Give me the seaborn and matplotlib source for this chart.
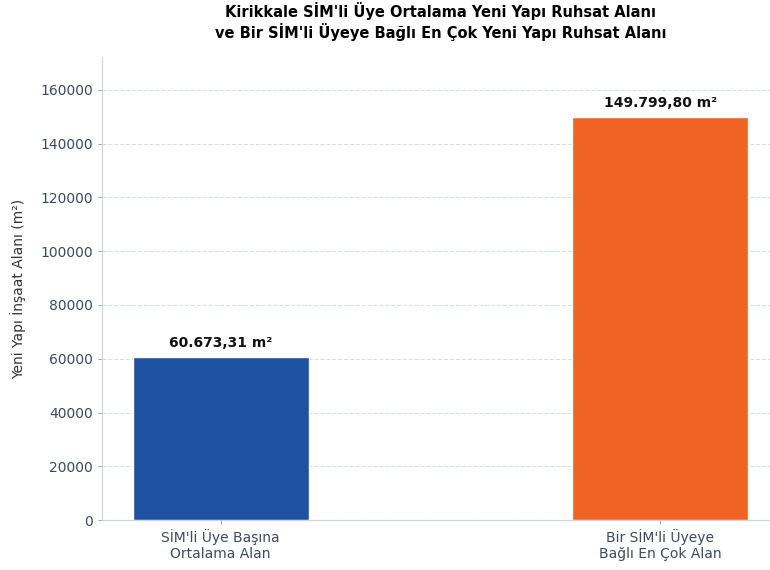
import numpy as np
import pandas as pd
import matplotlib
matplotlib.use('Agg')
import matplotlib.pyplot as plt
import seaborn as sns

categories = ["SİM'li Üye Başına\nOrtalama Alan", "Bir SİM'li Üyeye\nBağlı En Çok Alan"]
values = [60673.31, 149799.80]
value_labels = ['60.673,31 m²', '149.799,80 m²']
bar_colors = ['#1f51a1', '#f06323']

sns.set_theme(style='white')
plt.rcParams['font.family'] = ['DejaVu Sans']

df = pd.DataFrame({'kategori': categories, 'alan': values})

fig = plt.figure(figsize=(7.7, 5.7), dpi=100)
ax = fig.add_axes([0.1325, 0.0877, 0.879, 0.8123])

sns.barplot(data=df, x='kategori', y='alan', hue='kategori', palette=bar_colors,
            width=0.4, legend=False, saturation=1, ax=ax)

ax.set_xlim(-0.27, 1.27)
ax.set_ylim(0, max(values) * 1.15)
ax.set_yticks(np.arange(0, 160001, 20000))
ax.set_yticklabels([str(t) for t in range(0, 160001, 20000)])

ax.grid(axis='y', linestyle='--', color='#d8dfe8', linewidth=0.8)
ax.set_axisbelow(True)

for side in ['top', 'right']:
    ax.spines[side].set_visible(False)
for side in ['left', 'bottom']:
    ax.spines[side].set_color('#c9d6e2')
    ax.spines[side].set_linewidth(0.8)

ax.tick_params(axis='both', colors='#3d4a5c', labelsize=10, length=3, width=0.6,
               left=True, bottom=True)
ax.tick_params(axis='both', color='#8a96a3')

ax.set_xlabel('')
ax.set_ylabel('Yeni Yapı İnşaat Alanı (m²)', fontsize=10, color='#333333', labelpad=10)

for i, (v, lab) in enumerate(zip(values, value_labels)):
    ax.annotate(lab, (i, v), xytext=(0, 5), textcoords='offset points',
                ha='center', va='bottom', fontsize=10, fontweight='bold', color='#111111')

ax.set_title("Kirikkale SİM'li Üye Ortalama Yeni Yapı Ruhsat Alanı\n"
             "ve Bir SİM'li Üyeye Bağlı En Çok Yeni Yapı Ruhsat Alanı",
             fontsize=10.5, fontweight='bold', pad=14, linespacing=1.2, color='black')

fig.savefig('out.png', dpi=100)
